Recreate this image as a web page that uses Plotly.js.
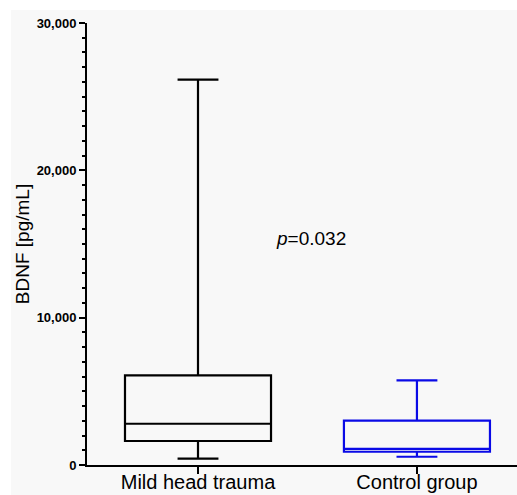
<!DOCTYPE html>
<html>
<head>
<meta charset="utf-8">
<script src="https://cdn.plot.ly/plotly-3.0.1.min.js"></script>
<style>
html, body { margin: 0; padding: 0; background: #ffffff; width: 517px; height: 495px; overflow: hidden; }
#chart { position: absolute; left: 11px; top: 10px; width: 506px; height: 485px; }
</style>
</head>
<body>
<div id="chart"></div>
<script>
var categories = ["Mild head trauma", "Control group"];
var lowerFence = [430, 560];
var q1Values = [1630, 900];
var medianValues = [2800, 1090];
var q3Values = [6080, 3010];
var upperFence = [26150, 5740];
var boxColors = ["#000000", "#0a0ae6"];
var yTickVals = [0, 10000, 20000, 30000];
var pText = "<i>p</i>=0.032";
var pPos = {x: 0.514, y: 15350};

var traces = categories.map(function (c, i) {
  return {
    type: "box",
    x: [i],
    q1: [q1Values[i]],
    median: [medianValues[i]],
    q3: [q3Values[i]],
    lowerfence: [lowerFence[i]],
    upperfence: [upperFence[i]],
    name: c,
    boxpoints: false,
    width: 0.667,
    whiskerwidth: 0.28,
    fillcolor: "rgba(0,0,0,0)",
    line: {color: boxColors[i], width: 2.2},
    hoverinfo: "skip",
    showlegend: false
  };
});

var layout = {
  width: 506,
  height: 485,
  margin: {l: 76, r: 0, t: 13, b: 30, pad: 0},
  paper_bgcolor: "#f8f8f8",
  plot_bgcolor: "#f8f8f8",
  font: {family: "Arial, 'Liberation Sans', sans-serif", color: "#000000"},
  showlegend: false,
  xaxis: {
    range: [-0.507, 1.457],
    tickvals: [0, 1],
    ticktext: categories,
    ticks: "outside",
    ticklen: 7,
    tickwidth: 2,
    tickcolor: "#000000",
    ticklabelstandoff: -9,
    showline: true,
    linewidth: 2,
    linecolor: "#000000",
    showgrid: false,
    zeroline: false,
    tickfont: {size: 20, color: "#000000"},
    fixedrange: true
  },
  yaxis: {
    range: [0, 30000],
    tickvals: yTickVals,
    tickformat: ",",
    ticks: "outside",
    ticklen: 6,
    tickwidth: 2,
    tickcolor: "#000000",
    minor: {dtick: 1000, ticks: "outside", ticklen: 3, tickwidth: 2, tickcolor: "#000000", showgrid: false},
    showline: true,
    linewidth: 2,
    linecolor: "#000000",
    showgrid: false,
    zeroline: false,
    tickfont: {size: 13, color: "#000000", weight: "bold"},
    title: {text: "BDNF [pg/mL]", font: {size: 19, color: "#000000"}, standoff: 2},
    fixedrange: true
  },
  annotations: [{
    x: pPos.x, y: pPos.y, xref: "x", yref: "y",
    text: pText, showarrow: false,
    font: {size: 19, color: "#000000"}
  }]
};

Plotly.newPlot("chart", traces, layout, {displayModeBar: false, staticPlot: true});
</script>
</body>
</html>
